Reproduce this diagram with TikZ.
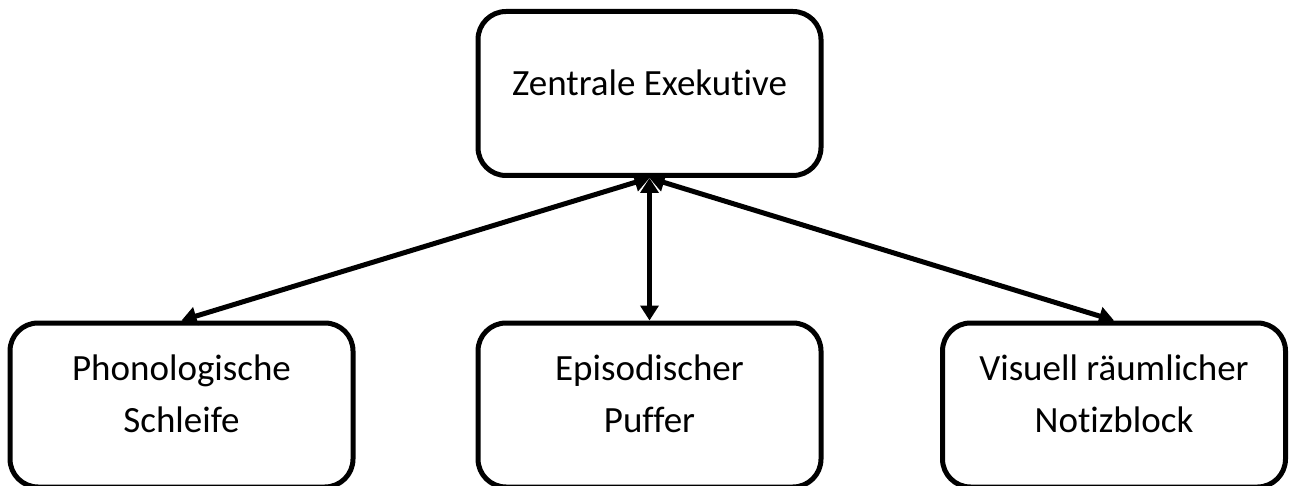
\documentclass[tikz,border=0pt]{standalone}
\usepackage{fontspec}
\setmainfont{Carlito}[Ligatures=NoCommon]
\usetikzlibrary{arrows.meta,positioning}
\begin{document}
\begin{tikzpicture}[x=1pt, y=-1pt, >={Triangle[length=15pt,width=18pt]},
    box/.style={draw, line width=5pt, rounded corners=28pt, minimum width=343pt, minimum height=164pt, inner sep=0pt},
    txt/.style={font={\fontsize{37}{52}\selectfont}, align=center, inner sep=0pt}]
\useasboundingbox (0,0) rectangle (1290,486);
% boxes
\node[box] (ze) at (649.5,93.5) {};
\node[box] (ps) at (181.5,405) {};
\node[box] (ep) at (649.5,405) {};
\node[box] (vr) at (1114,405) {};
% texts
\node[txt, anchor=base] (zet) at ([yshift=-87pt]ze.north) {Zentrale Exekutive};
\node[txt, anchor=north] (pst) at ([yshift=-34pt]ps.north) {Phonologische\\Schleife};
\node[txt, anchor=north] (ept) at ([yshift=-34pt]ep.north) {Episodischer\\Puffer};
\node[txt, anchor=north] (vrt) at ([yshift=-34pt]vr.north) {Visuell räumlicher\\Notizblock};
% connections
\draw[<->, line width=5pt] (ze.south) -- (ps.north);
\draw[<->, line width=5pt] (ze.south) -- (ep.north);
\draw[<->, line width=5pt] (ze.south) -- (vr.north);
\end{tikzpicture}
\end{document}
